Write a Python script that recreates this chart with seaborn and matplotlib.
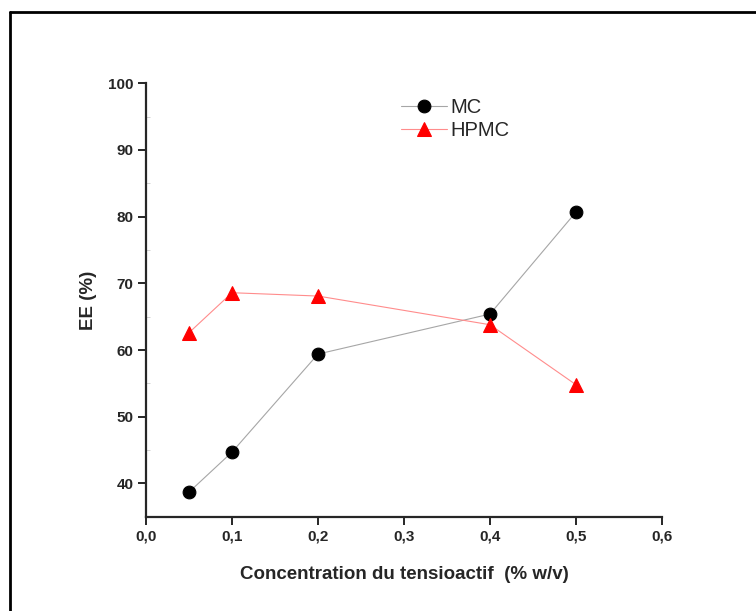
import numpy as np
import pandas as pd
import seaborn as sns
import matplotlib.pyplot as plt
from matplotlib.lines import Line2D
from matplotlib.ticker import FuncFormatter, MultipleLocator

# donnees
conc = [0.05, 0.1, 0.2, 0.4, 0.5]
ee_mc = [38.7, 44.7, 59.4, 65.4, 80.7]
ee_hpmc = [62.6, 68.6, 68.1, 63.8, 54.8]

sns.set_style("ticks")
plt.rcParams['font.family'] = ['Liberation Sans', 'DejaVu Sans']

df = pd.DataFrame({"conc": conc, "MC": ee_mc, "HPMC": ee_hpmc})

fig = plt.figure(figsize=(7.56, 6.11), dpi=100)
ax = fig.add_axes([146 / 756, 94.2 / 611, 516 / 756, 433.5 / 611])

sns.lineplot(data=df, x="conc", y="MC", ax=ax, color="#a6a6a6", lw=0.8,
             marker="o", markersize=9.2, markerfacecolor="black",
             markeredgecolor="black", label="MC")
sns.lineplot(data=df, x="conc", y="HPMC", ax=ax, color="#ff8c8c", lw=0.8,
             marker="^", markersize=10.5, markerfacecolor="red",
             markeredgecolor="red", label="HPMC")

ax.set_xlim(0, 0.6)
ax.set_ylim(35, 100)
ax.xaxis.set_major_locator(MultipleLocator(0.1))
ax.yaxis.set_major_locator(MultipleLocator(10))
ax.yaxis.set_minor_locator(MultipleLocator(5))
ax.xaxis.set_major_formatter(FuncFormatter(lambda v, p: f"{v:.1f}".replace(".", ",")))
ax.yaxis.set_major_formatter(FuncFormatter(lambda v, p: f"{v:.0f}"))

sns.despine(ax=ax)
for s in ["left", "bottom"]:
    ax.spines[s].set_linewidth(1.6)
ax.tick_params(axis="both", which="major", direction="out", length=6, width=1.4,
               labelsize=11, pad=3)
ax.tick_params(axis="y", which="minor", direction="in", length=3, width=0.6,
               color="#cccccc")
for lab in ax.get_xticklabels() + ax.get_yticklabels():
    lab.set_fontweight("bold")

ax.set_xlabel("Concentration du tensioactif  (% w/v)", fontsize=13.5,
              fontweight="bold", labelpad=16)
ax.set_ylabel("EE (%)", fontsize=13.5, fontweight="bold", labelpad=8)

leg = ax.legend(loc="upper left", bbox_to_anchor=(391 / 756, 1 - 88 / 611),
                bbox_transform=fig.transFigure, frameon=False, fontsize=14.5,
                handlelength=2.3, handletextpad=0.15, labelspacing=0.2,
                borderpad=0)

# cadre de la capture (bords gauche et haut)
fig.add_artist(Line2D([10 / 756, 10 / 756], [0, 1 - 12 / 611],
                      transform=fig.transFigure, color="black", lw=2))
fig.add_artist(Line2D([10 / 756, 1], [1 - 12 / 611, 1 - 12 / 611],
                      transform=fig.transFigure, color="black", lw=2))

fig.savefig("out.png", dpi=100)
